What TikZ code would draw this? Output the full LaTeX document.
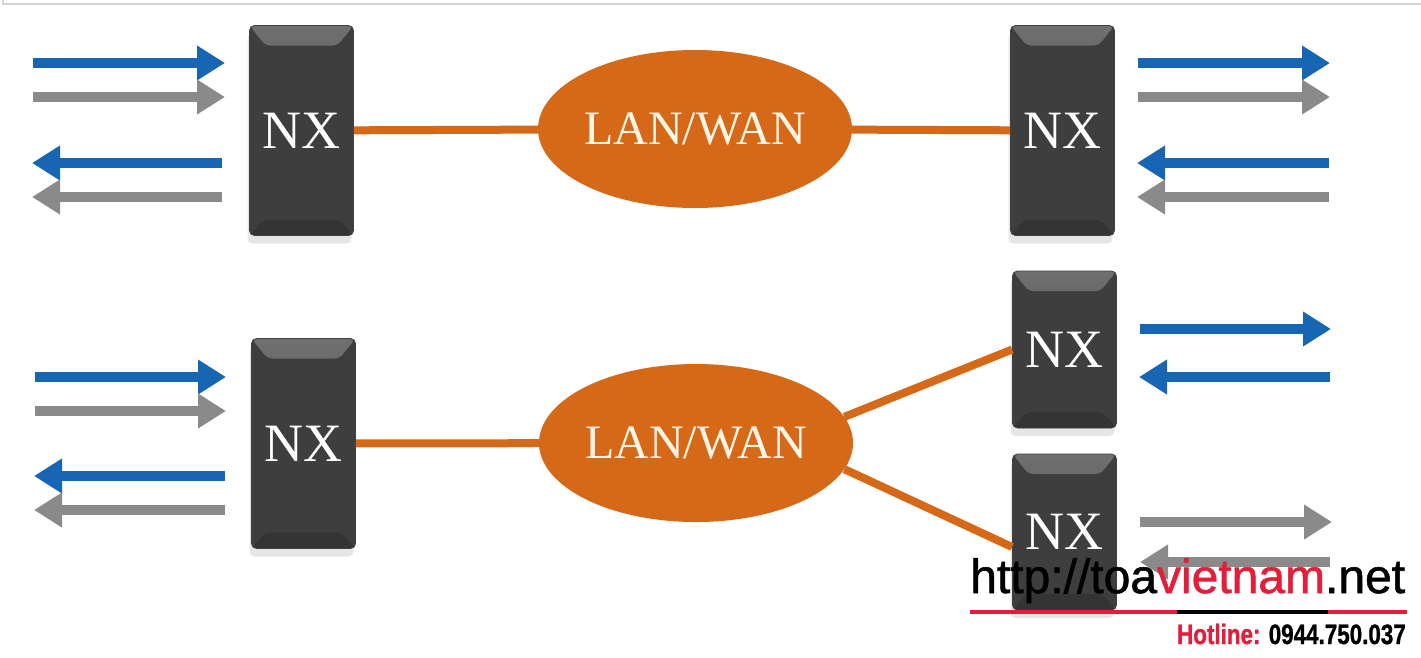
\documentclass[tikz,border=0pt]{standalone}
\usepackage{fontspec}
\setmainfont{Liberation Serif}
\newfontfamily\wmfont[FakeBold=1.2]{Liberation Sans}
\usetikzlibrary{arrows.meta,shapes.geometric,shadows}

\definecolor{boxgray}{RGB}{62,62,62}
\definecolor{bevelgray}{RGB}{112,112,112}
\definecolor{lanorange}{RGB}{214,105,24}
\definecolor{lancream}{RGB}{255,246,232}
\definecolor{flowblue}{RGB}{22,102,180}
\definecolor{flowgray}{RGB}{138,138,138}
\definecolor{wmred}{RGB}{228,30,58}
\definecolor{framegray}{RGB}{212,212,212}

\tikzset{
    nxbox/.style={draw=black!75, line width=0.8pt, rounded corners=5pt, fill=boxgray,
        minimum width=104pt, minimum height=#1, inner sep=0pt, text=white,
        font=\fontsize{54}{60}\selectfont,
        drop shadow={shadow xshift=-2pt, shadow yshift=-8pt, opacity=0.2},
        path picture={
            \shade[top color=bevelgray, bottom color=boxgray]
                (path picture bounding box.north west) -- (path picture bounding box.north east)
                -- ([xshift=-16pt,yshift=-20pt]path picture bounding box.north east)
                -- ([xshift=16pt,yshift=-20pt]path picture bounding box.north west) -- cycle;
            \fill[black, opacity=0.15]
                (path picture bounding box.south west) -- (path picture bounding box.south east)
                -- ([xshift=-14pt,yshift=16pt]path picture bounding box.south east)
                -- ([xshift=14pt,yshift=16pt]path picture bounding box.south west) -- cycle;
        }},
    nxbox/.default=210pt,
    lancloud/.style={ellipse, fill=lanorange, minimum width=314pt, minimum height=158pt,
        inner sep=0pt, text=lancream, font=\fontsize{48}{54}\selectfont},
    link/.style={draw=lanorange, line width=8pt},
    flowarrow/.style={line width=10pt, -{Triangle[length=28pt,width=33pt]}},
}

\begin{document}
\begin{tikzpicture}[x=1pt, y=-1pt]
            \useasboundingbox (0,0) rectangle (1421,657);
            % Cornice
            \draw[framegray, line width=1.5pt] (3,0) |- (1421,4);

            % Rete superiore
            \node[nxbox] (nxA) at (301.5,130.5) {NX};
            \node[lancloud] (lan1) at (695,129) {LAN/WAN};
            \node[nxbox] (nxB) at (1062.5,130.5) {NX};
            \draw[link] (nxA) -- (lan1) -- (nxB);

            % Rete inferiore
            \node[nxbox] (nxC) at (303.5,443.5) {NX};
            \node[lancloud] (lan2) at (696,443) {LAN/WAN};
            \node[nxbox=157pt] (nxD) at (1064.5,349.5) {NX};
            \node[nxbox=156pt] (nxE) at (1064.5,532) {NX};
            \draw[link] (nxC) -- (lan2);
            \draw[link] (lan2.10) -- (nxD.west);
            \draw[link] (lan2.-10) -- (nxE.196);

            % Flussi in alto a sinistra
            \draw[flowarrow, flowblue] (33,63) -- (225,63);
            \draw[flowarrow, flowgray] (33,97) -- (225,97);
            \draw[flowarrow, flowblue] (222,163) -- (32,163);
            \draw[flowarrow, flowgray] (222,197) -- (32,197);

            % Flussi in alto a destra
            \draw[flowarrow, flowblue] (1138,63) -- (1330,63);
            \draw[flowarrow, flowgray] (1138,97) -- (1330,97);
            \draw[flowarrow, flowblue] (1329,163) -- (1137,163);
            \draw[flowarrow, flowgray] (1329,197) -- (1137,197);

            % Flussi in basso a sinistra
            \draw[flowarrow, flowblue] (35,377) -- (226,377);
            \draw[flowarrow, flowgray] (35,411) -- (226,411);
            \draw[flowarrow, flowblue] (225,476) -- (34,476);
            \draw[flowarrow, flowgray] (225,510) -- (34,510);

            % Flussi in basso a destra
            \draw[flowarrow, flowblue] (1140,329) -- (1331,329);
            \draw[flowarrow, flowblue] (1330,377) -- (1139,377);
            \draw[flowarrow, flowgray] (1140,522) -- (1332,522);
            \draw[flowarrow, flowgray] (1330,562) -- (1140,562);

            % Filigrana
            \node[anchor=base west, inner sep=0pt, font=\wmfont\fontsize{48}{52}\selectfont] (wmurl) at (970,593)
                {http://toa\textcolor{wmred}{vietnam}.net};
            \fill[wmred] (970,610) rectangle (1177,614);
            \fill[black] (1177,610) rectangle (1328,614);
            \fill[wmred] (1328,610) rectangle (1407,614);
            \node[anchor=base east, inner sep=0pt, font=\wmfont\bfseries\fontsize{28}{30}\selectfont] (wmhot) at (1406,644)
                {\scalebox{0.8}[1]{\textcolor{wmred}{Hotline:} 0944.750.037}};
        \end{tikzpicture}
\end{document}
